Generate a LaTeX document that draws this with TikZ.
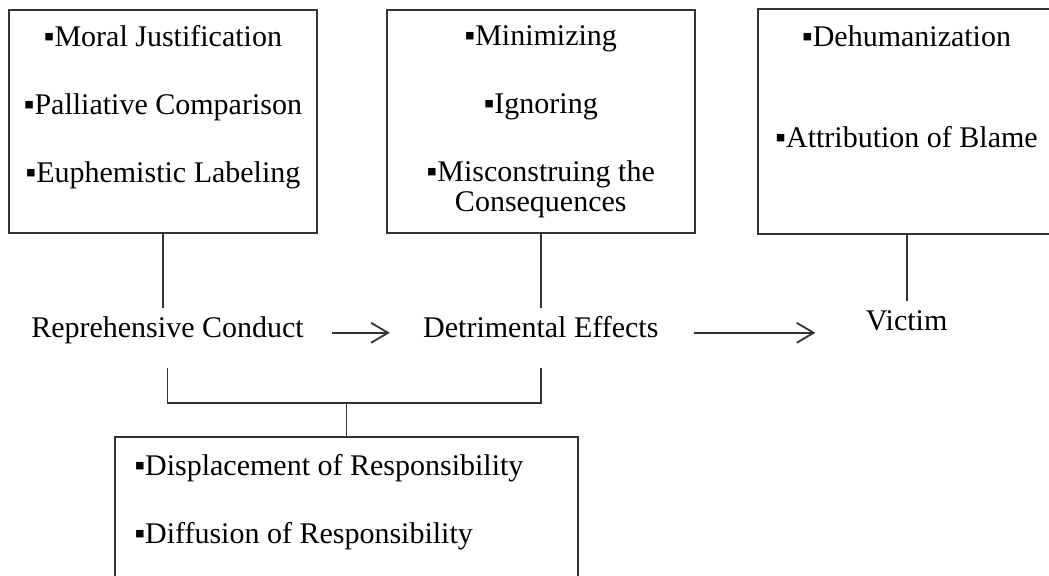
\documentclass[tikz,border=0pt]{standalone}
\usepackage{fontspec}
\setmainfont{Liberation Serif}
\usetikzlibrary{positioning, arrows.meta}
\newcommand{\sqbul}{▪}
\tikzstyle{listbox} = [rectangle, 
draw=black!80, 
line width=0.9pt, 
minimum width=154pt, 
minimum height=111.5pt]
\tikzstyle{listtext} = [align=center, 
inner sep=0pt, 
font=\fontsize{15}{15}\selectfont]
\tikzstyle{stage} = [font=\fontsize{15}{15}\selectfont, 
text height=0.7em, 
text depth=0.25em, 
inner xsep=0pt, 
inner ysep=7.5pt]
\tikzstyle{link} = [draw=black!80, line width=0.9pt]
\tikzstyle{arrow} = [link, ->, >={Straight Barb[length=8.5pt, width=10pt]}]

\begin{document}
\begin{tikzpicture}[x=0.5pt, y=0.5pt]
    \path[use as bounding box] (0,0) rectangle (1049,-576);

    \node (mjbox) [listbox] at (163,-121.5) {};
    \node (mcbox) [listbox, right=34pt of mjbox] {};
    % right side runs off the page
    \node (dhbox) [listbox, draw=none, right=28pt of mcbox, minimum width=160pt, xshift=3pt] {};
    \draw [link] (dhbox.north east) -- (dhbox.north west) -- (dhbox.south west) -- (dhbox.south east);

    \node (mjtext) [listtext, below=8pt of mjbox.north] {\sqbul Moral Justification\\[19pt]
    \sqbul Palliative Comparison\\[19pt]
    \sqbul Euphemistic Labeling};
    \node (mctext) [listtext, below=8pt of mcbox.north] {\sqbul Minimizing\\[19pt]
    \sqbul Ignoring\\[19pt]
    \sqbul Misconstruing the\\Consequences};
    \node (dhtext) [listtext, below=8pt of dhbox.north, xshift=-6pt] {\sqbul Dehumanization\\[35.5pt]
    \sqbul Attribution of Blame};

    \node (conduct) [stage, below=37pt of mjbox, xshift=2.25pt] {Reprehensive Conduct};
    \node (effects) [stage, below=37pt of mcbox] {Detrimental Effects};
    \node (victim) [stage, below=33.5pt of dhbox, xshift=-6pt] {Victim};

    \node (dsbox) [listbox, minimum width=231.5pt, minimum height=82pt, anchor=north] at (346.5,-436) {};
    \node (dstext) [listtext, align=left, below right=9pt and 10pt of dsbox.north west] {\sqbul Displacement of Responsibility\\[19pt]
    \sqbul Diffusion of Responsibility};
    \coordinate[above=16.5pt of dsbox.north] (jn);

    \draw [link] (mjbox.south) -- (mjbox.south |- conduct.north);
    \draw [link] (mcbox.south) -- (effects.north);
    \draw [link] (victim.north |- dhbox.south) -- (victim.north);

    \draw [arrow, shorten <=14pt, shorten >=16.5pt] (conduct) -- (effects);
    \draw [arrow, shorten <=17.5pt, shorten >=25pt] (effects.east) -- (effects.east -| victim.west);

    \draw [link, shorten <=5pt, shorten >=5pt] (conduct.south) |- (jn) -| (effects.south);
    \draw [link] (jn) -- (dsbox.north);
\end{tikzpicture}
\end{document}
